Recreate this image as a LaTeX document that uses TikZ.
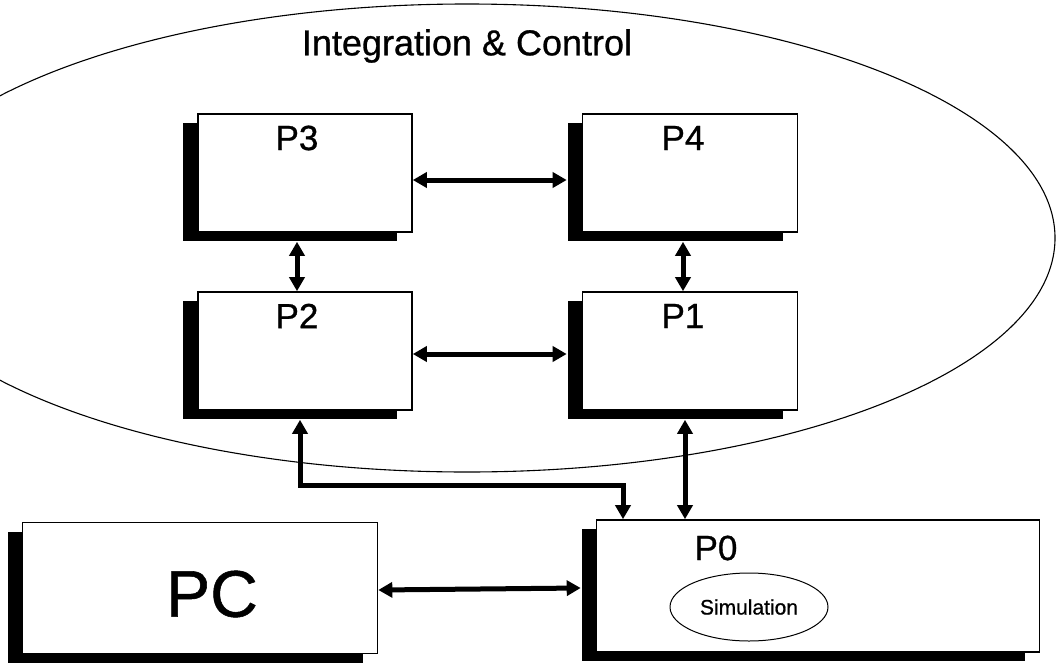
\documentclass[tikz,border=0pt]{standalone}
\usepackage{fontspec}
\setmainfont{Liberation Sans}[FakeBold=0.8]
\usetikzlibrary{shapes.geometric,arrows.meta,shadows}
\begin{document}
\begin{tikzpicture}[x=1pt,y=-1pt,
  pbox/.style={draw, line width=1.6pt, fill=white, inner sep=0pt,
    minimum width=#1, minimum height=118pt,
    general shadow={shadow xshift=-15pt, shadow yshift=-9pt, fill=black}},
  pbox/.default=214pt,
  lbl/.style={font=\fontsize{35}{40}\selectfont, inner sep=0pt},
  arr/.style={line width=5pt, {Triangle[length=14pt,width=15pt]}-{Triangle[length=14pt,width=15pt]}, line join=miter}]
\useasboundingbox (0,0) rectangle (1057,664);
\fill[white] (0,0) rectangle (1057,664);
% outer region
\node[draw, line width=1.1pt, ellipse, inner sep=0pt, minimum width=1176pt, minimum height=468pt] (ic) at (467,238) {};
\node[font=\fontsize{36}{40}\selectfont, inner sep=0pt] (ictext) at (467,46) {Integration \& Control};
% boxes
\node[pbox] (p3) at (305,173) {};
\node[pbox=215pt] (p4) at (690,173) {};
\node[pbox] (p2) at (305,351) {};
\node[pbox=215pt] (p1) at (690,351) {};
\node[pbox=443pt, minimum height=132pt] (p0) at (818,586) {};
\node[pbox=355pt, minimum height=131pt] (pc) at (200,588) {};
% labels
\node[lbl] (p3t) at (297,138) {P3};
\node[lbl] (p4t) at (683,138) {P4};
\node[lbl] (p2t) at (297,316) {P2};
\node[lbl] (p1t) at (683,316) {P1};
\node[lbl] (p0t) at (716,548) {P0};
\node[font=\fontsize{66}{70}\selectfont, inner sep=0pt] (pct) at (212,594) {PC};
\node[draw, line width=1pt, ellipse, inner sep=0pt, minimum width=158pt, minimum height=68pt] (sim) at (749,607) {};
\node[font=\fontsize{21}{24}\selectfont, inner sep=0pt] (simt) at (sim) {Simulation};
% connectors
\draw[arr] ([yshift=-7pt]p3.east) -- ([xshift=-15pt,yshift=-7pt]p4.west);
\draw[arr] ([yshift=-3pt]p2.east) -- ([xshift=-15pt,yshift=-3pt]p1.west);
\draw[arr] ([xshift=-8pt,yshift=-9pt]p3.south) -- ([xshift=-8pt]p2.north);
\draw[arr] ([xshift=-7pt,yshift=-9pt]p4.south) -- ([xshift=-7pt]p1.north);
\draw[arr] ([xshift=-5pt,yshift=-9pt]p1.south) -- ([xshift=-5pt]p1.south |- p0.north);
\coordinate (turn) at (623,485);
\draw[arr] ([xshift=-5pt,yshift=-9pt]p2.south) |- (turn) -- (turn |- p0.north);
\draw[arr] ([yshift=-2pt]pc.east) -- ([xshift=-15pt]pc.east -| p0.west);
\end{tikzpicture}
\end{document}
